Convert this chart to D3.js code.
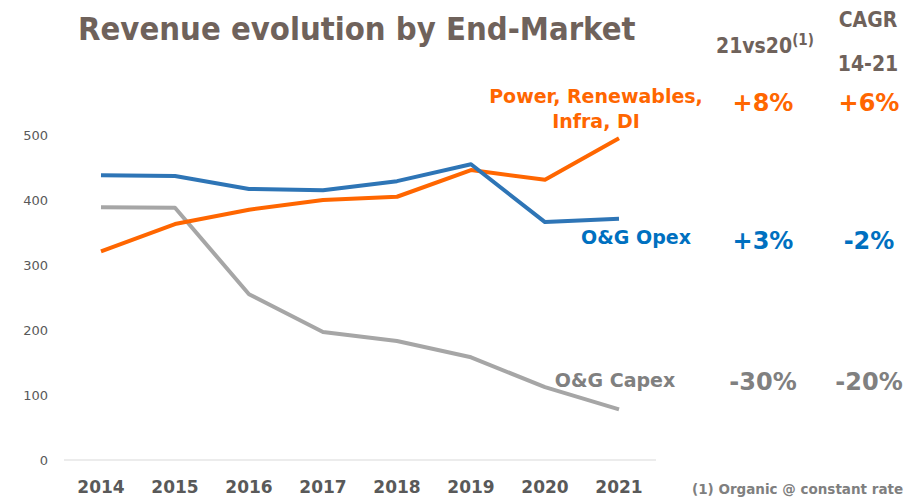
<!DOCTYPE html>
<html>
<head>
<meta charset="utf-8">
<style>
  body { margin: 0; background: #fff; }
  svg { display: block; }
</style>
</head>
<body>
<svg width="910" height="497"></svg>
<script src="https://d3js.org/d3.v7.min.js"></script>
<script>
var years = ["2014", "2015", "2016", "2017", "2018", "2019", "2020", "2021"];
var opex = [438, 437, 417, 415, 429, 455, 366, 371];
var power = [321, 363, 385, 400, 405, 446, 431, 495];
var capex = [389, 388, 255, 197, 183, 158, 112, 78];
var yTicks = [0, 100, 200, 300, 400, 500];
var growth = ["+8%", "+3%", "-30%"];
var cagr = ["+6%", "-2%", "-20%"];

var svg = d3.select("svg");
var x = d3.scaleBand().domain(years).range([64, 656]);
var y = d3.scaleLinear().domain([0, 500]).range([460, 135]);

// y ticks, no axis line
svg.append("g").attr("transform", "translate(48,0)")
  .call(d3.axisLeft(y).tickValues(yTicks).tickSize(0).tickPadding(0))
  .call(function(g) { g.select(".domain").remove(); })
  .selectAll("text")
  .attr("font-family", "DejaVu Sans").attr("font-size", 13).attr("fill", "#595959");

// baseline
svg.append("line").attr("x1", 64).attr("x2", 656)
  .attr("y1", y(0)).attr("y2", y(0))
  .attr("stroke", "#d9d9d9").attr("stroke-width", 1);

var xa = svg.append("g").attr("transform", "translate(0," + y(0) + ")")
  .call(d3.axisBottom(x).tickSize(0).tickPadding(21));
xa.select(".domain").remove();
xa.selectAll("text")
  .attr("font-family", "DejaVu Sans").attr("font-weight", "bold")
  .attr("font-size", 17).attr("fill", "#595959");

var line = d3.line()
  .x(function(d, i) { return x(years[i]) + x.bandwidth() / 2; })
  .y(function(d) { return y(d); });

var series = [
  { vals: capex, color: "#a6a6a6" },
  { vals: power, color: "#ff6600" },
  { vals: opex, color: "#2e75b6" }
];
series.forEach(function(s) {
  svg.append("path").attr("d", line(s.vals))
    .attr("fill", "none").attr("stroke", s.color)
    .attr("stroke-width", 4).attr("stroke-linejoin", "round");
});

// title and headers
var brown = "#6f625b";
svg.append("text").attr("x", 78).attr("y", 40)
  .attr("font-family", "DejaVu Sans Condensed").attr("font-weight", "bold")
  .attr("font-size", 32.5).attr("fill", brown)
  .text("Revenue evolution by End-Market");

var h1 = svg.append("text").attr("x", 716).attr("y", 53)
  .attr("font-family", "DejaVu Sans Condensed").attr("font-weight", "bold")
  .attr("font-size", 21).attr("fill", brown);
h1.append("tspan").text("21vs20");
h1.append("tspan").attr("dy", -8).attr("font-size", 15).text("(1)");

svg.append("text").attr("x", 868).attr("y", 27).attr("text-anchor", "middle")
  .attr("font-family", "DejaVu Sans Condensed").attr("font-weight", "bold")
  .attr("font-size", 21).attr("fill", brown).text("CAGR");
svg.append("text").attr("x", 868).attr("y", 71).attr("text-anchor", "middle")
  .attr("font-family", "DejaVu Sans Condensed").attr("font-weight", "bold")
  .attr("font-size", 21).attr("fill", brown).text("14-21");

// series labels
function label(txt, xx, yy, color) {
  svg.append("text").attr("x", xx).attr("y", yy).attr("text-anchor", "middle")
    .attr("font-family", "DejaVu Sans").attr("font-weight", "bold")
    .attr("font-size", 19).attr("fill", color).text(txt);
}
label("Power, Renewables,", 596, 103, "#ff6600");
label("Infra, DI", 596, 128, "#ff6600");
label("O&G Opex", 636, 244, "#0070c0");
label("O&G Capex", 615, 387, "#808080");

var rowY = [111, 249, 390];
var rowColor = ["#ff6600", "#0070c0", "#808080"];
growth.forEach(function(g, i) {
  svg.append("text").attr("x", 763).attr("y", rowY[i]).attr("text-anchor", "middle")
    .attr("font-family", "DejaVu Sans").attr("font-weight", "bold")
    .attr("font-size", 24).attr("fill", rowColor[i]).text(g);
});
cagr.forEach(function(g, i) {
  svg.append("text").attr("x", 869).attr("y", rowY[i]).attr("text-anchor", "middle")
    .attr("font-family", "DejaVu Sans").attr("font-weight", "bold")
    .attr("font-size", 24).attr("fill", rowColor[i]).text(g);
});

svg.append("text").attr("x", 692).attr("y", 494)
  .attr("font-family", "DejaVu Sans").attr("font-weight", "bold")
  .attr("font-size", 13.5).attr("fill", "#7f7f7f")
  .text("(1) Organic @ constant rate");
</script>
</body>
</html>
